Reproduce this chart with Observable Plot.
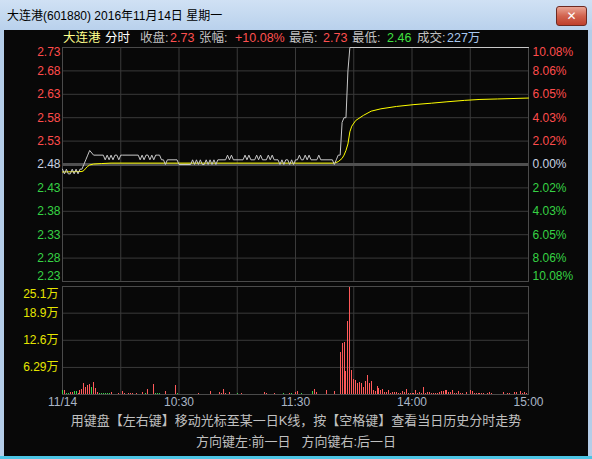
<!DOCTYPE html>
<html><head><meta charset="utf-8">
<script src="https://cdn.jsdelivr.net/npm/d3@7"></script>
<script src="https://cdn.jsdelivr.net/npm/@observablehq/plot@0.6"></script>
<style>
html,body{margin:0;padding:0;background:#fff;}
#win{position:relative;width:592px;height:459px;overflow:hidden;background:#b4cde8;font-family:"Liberation Sans","Noto Sans CJK SC",sans-serif;}
#titlebar{position:absolute;left:0;top:0;width:592px;height:30px;background:linear-gradient(#d0e1f4,#b9d1ec);}
#title{position:absolute;left:7px;top:9px;font-size:12px;color:#000;line-height:14px;white-space:nowrap;}
#close{position:absolute;left:556px;top:6px;width:31px;height:20px;border:1px solid #6e2a22;border-radius:3px;background:linear-gradient(#eaa595,#d2644f 50%,#bf3f2c);box-sizing:border-box;color:#fff;font-family:"DejaVu Sans",sans-serif;font-size:12px;font-weight:bold;text-align:center;line-height:18px;}
#body{position:absolute;left:4px;top:30px;width:584px;height:426px;background:#080808;}
#bottomline{position:absolute;left:0;top:456px;width:592px;height:3px;background:#4cc4e4;}
.hdr{position:absolute;top:31px;font-size:12.5px;line-height:15px;white-space:nowrap;}
.note{position:absolute;left:0;width:592px;text-align:center;font-size:13px;line-height:15px;color:#c0c0c0;white-space:pre;}
.chart{position:absolute;left:0;}
</style>
</head>
<body>
<div id="win">
  <div id="titlebar"></div>
  <div id="title">大连港(601880) 2016年11月14日 星期一</div>
  <div id="close">✕</div>
  <div id="body"></div>
  <div id="bottomline"></div>
  <span class="hdr" style="left:63px;color:#ffff8c">大连港</span>
  <span class="hdr" style="left:105px;color:#ffffff">分时</span>
  <span class="hdr" style="left:140px;color:#c0c0c0">收盘:</span>
  <span class="hdr" style="left:170px;color:#ff5050">2.73</span>
  <span class="hdr" style="left:199px;color:#c0c0c0">张幅:</span>
  <span class="hdr" style="left:235px;color:#ff5050">+10.08%</span>
  <span class="hdr" style="left:289px;color:#c0c0c0">最高:</span>
  <span class="hdr" style="left:323px;color:#ff5050">2.73</span>
  <span class="hdr" style="left:352px;color:#c0c0c0">最低:</span>
  <span class="hdr" style="left:387px;color:#40e040">2.46</span>
  <span class="hdr" style="left:417px;color:#c0c0c0">成交:</span>
  <span class="hdr" style="left:447px;color:#a8c8f0">227万</span>
  <div class="note" style="top:413px">用键盘【左右键】移动光标至某一日K线，按【空格键】查看当日历史分时走势</div>
  <div class="note" style="top:434px">方向键左:前一日   方向键右:后一日</div>
</div>
<script>
// ---- data ----
const prevClose = 2.48;
const upTicks = [2.73, 2.68, 2.63, 2.58, 2.53];
const downTicks = [2.43, 2.38, 2.33, 2.28, 2.23];
const upPct = ["10.08%", "8.06%", "6.05%", "4.03%", "2.02%"];
const downPct = ["2.02%", "4.03%", "6.05%", "8.06%", "10.08%"];
const gridMinutes = [30, 60, 90, 120, 150, 180, 210];
const timeTicks = [0, 60, 120, 180, 240];
const timeLabels = ["11/14", "10:30", "11:30", "14:00", "15:00"];
const volTicks = [25.1, 18.9, 12.6, 6.29];
const volLabels = ["25.1万", "18.9万", "12.6万", "6.29万"];

// price line (minute, price)
const priceMin = [0,1,2,3,4,5,6,7,8,9,10,11,12,13,14,16,21,22,23,24,25,26,27,28,29,30,31,39,40,41,42,43,44,45,46,47,48,49,50,51,52,53,54,59,60,66,67,68,69,70,71,72,73,74,75,76,77,78,79,80,84,85,86,87,88,93,94,95,96,97,99,100,101,102,103,105,106,107,108,109,111,112,113,114,115,116,117,118,119,120,121,122,123,124,125,126,127,128,131,132,133,139,140,141,142,143,144,145,146,147,148,240];
const priceVal = [2.47,2.46,2.47,2.46,2.46,2.47,2.46,2.47,2.46,2.47,2.47,2.48,2.49,2.50,2.51,2.50,2.50,2.49,2.50,2.49,2.50,2.49,2.50,2.50,2.49,2.50,2.50,2.50,2.49,2.50,2.49,2.50,2.50,2.49,2.50,2.49,2.50,2.50,2.50,2.49,2.49,2.48,2.49,2.49,2.48,2.48,2.49,2.48,2.49,2.48,2.49,2.48,2.48,2.49,2.48,2.49,2.48,2.49,2.48,2.49,2.49,2.50,2.49,2.50,2.49,2.49,2.50,2.49,2.50,2.49,2.49,2.50,2.49,2.50,2.49,2.49,2.50,2.49,2.50,2.49,2.49,2.48,2.49,2.48,2.49,2.49,2.48,2.49,2.48,2.49,2.49,2.50,2.49,2.49,2.50,2.49,2.50,2.49,2.49,2.50,2.49,2.49,2.48,2.49,2.50,2.50,2.57,2.58,2.58,2.68,2.73,2.73];

// average price line (minute, price)
const avgMin = [0,10,11,12,13,14,16,20,25,140,142,144,145,146,147,148,149,151,155,159,164,172,181,190,198,207,215,224,240];
const avgVal = [2.464,2.465,2.467,2.472,2.476,2.479,2.481,2.482,2.483,2.483,2.486,2.493,2.500,2.510,2.524,2.550,2.562,2.574,2.585,2.594,2.599,2.604,2.608,2.611,2.614,2.617,2.619,2.620,2.622];

// volume (万), rising minutes and falling minutes
const upVolMin = [1,4,5,8,9,10,11,12,13,14,16,17,18,25,29,31,32,34,35,36,38,41,44,47,53,58,70,76,81,82,83,84,86,92,104,105,109,117,120,121,130,131,136,140,143,144,145,146,147,148,149,150,151,152,153,154,155,156,157,158,159,160,161,162,163,164,165,166,167,168,169,170,171,172,173,174,175,176,177,178,179,180,181,182,183,184,185,186,187,188,189,190,191,192,193,194,195,196,197,198,199,200,201,202,203,204,205,206,208,210,211,212,213,214,215,216,217,219,220,221,227,229,230,233,234,236,237,238,239];
const upVol = [0.93,0.47,0.47,0.23,0.93,1.16,2.56,1.63,2.09,2.33,2.79,1.40,0.47,0.47,0.23,0.70,0.23,0.23,0.23,0.23,0.23,0.47,1.16,2.33,0.70,2.09,0.23,0.70,0.47,0.23,1.16,0.23,0.47,0.23,0.47,0.23,0.23,0.23,0.47,0.70,1.16,0.47,0.93,0.70,9.77,11.86,12.09,5.35,16.98,24.9,5.58,3.49,3.26,2.56,2.79,2.56,1.63,3.02,4.42,2.56,3.02,0.93,0.70,1.86,1.40,0.93,1.16,0.47,0.47,0.93,0.23,0.47,0.47,0.47,0.23,0.23,0.70,0.47,1.16,0.23,0.23,0.23,0.23,0.93,0.23,0.47,0.23,1.63,0.23,0.47,0.47,0.23,0.23,0.23,0.23,0.47,0.70,0.70,0.93,0.93,0.47,0.47,0.93,0.23,0.23,0.70,0.23,0.23,0.47,0.93,0.70,0.23,0.23,0.23,0.23,0.23,0.23,0.23,0.47,0.23,0.47,0.23,0.23,0.47,0.47,0.70,0.23,0.47,0.23];
const downVolMin = [0,2,3,6,7,15,19,20,21,22,23,24,43,48,49,50,59,90,114,118,123,129];
const downVol = [0.93,0.23,0.23,0.70,0.70,1.63,0.23,0.23,0.23,0.23,0.23,0.23,0.23,0.23,0.23,0.23,0.23,0.23,0.23,0.23,0.23,0.70];

// ---- colours ----
const RED = "#ff4c4c", GREEN = "#36d244", NEUTRAL = "#c8d2e2", GRID = "#3a3a3a";
const FONT = "Liberation Sans, Noto Sans CJK SC, sans-serif";
const win = document.getElementById("win");

const xScale = {domain: [0, 240], axis: null};
const idx = (arr) => arr.map((_, i) => i);

const pricePlot = Plot.plot({
  width: 592, height: 290,
  marginTop: 47, marginBottom: 9, marginLeft: 62, marginRight: 64,
  x: xScale,
  y: {domain: [2.23, 2.73], axis: null},
  style: {background: "transparent", overflow: "visible", fontFamily: FONT},
  marks: [
    Plot.ruleY([...upTicks.slice(1), ...downTicks.slice(0, 4)], {stroke: GRID}),
    Plot.ruleX(gridMinutes, {stroke: GRID}),
    Plot.ruleY([prevClose], {stroke: "#505050", strokeWidth: 3}),
    Plot.frame({stroke: "#4a4a4a"}),
    Plot.line(idx(avgMin), {x: i => avgMin[i], y: i => avgVal[i], stroke: "#ffff00", strokeWidth: 1}),
    Plot.line(idx(priceMin), {x: i => priceMin[i], y: i => priceVal[i], stroke: "#c8c8c8", strokeWidth: 1}),
    // left labels
    Plot.text([upTicks[0]], {y: d => d, text: d => d.toFixed(2), frameAnchor: "left", dx: -2, dy: 5, textAnchor: "end", fill: RED, fontSize: 12}),
    Plot.text(upTicks.slice(1), {y: d => d, text: d => d.toFixed(2), frameAnchor: "left", dx: -2, textAnchor: "end", fill: RED, fontSize: 12}),
    Plot.text([prevClose], {y: d => d, text: d => d.toFixed(2), frameAnchor: "left", dx: -2, textAnchor: "end", fill: NEUTRAL, fontSize: 12}),
    Plot.text(downTicks.slice(0, 4), {y: d => d, text: d => d.toFixed(2), frameAnchor: "left", dx: -2, textAnchor: "end", fill: GREEN, fontSize: 12}),
    Plot.text([downTicks[4]], {y: d => d, text: d => d.toFixed(2), frameAnchor: "left", dx: -2, dy: -5, textAnchor: "end", fill: GREEN, fontSize: 12}),
    // right labels
    Plot.text([0], {y: i => upTicks[i], text: i => upPct[i], frameAnchor: "right", dx: 4, dy: 5, textAnchor: "start", fill: RED, fontSize: 12}),
    Plot.text([1, 2, 3, 4], {y: i => upTicks[i], text: i => upPct[i], frameAnchor: "right", dx: 4, textAnchor: "start", fill: RED, fontSize: 12}),
    Plot.text([prevClose], {y: d => d, text: () => "0.00%", frameAnchor: "right", dx: 4, textAnchor: "start", fill: NEUTRAL, fontSize: 12}),
    Plot.text([0, 1, 2, 3], {y: i => downTicks[i], text: i => downPct[i], frameAnchor: "right", dx: 4, textAnchor: "start", fill: GREEN, fontSize: 12}),
    Plot.text([4], {y: i => downTicks[i], text: i => downPct[i], frameAnchor: "right", dx: 4, dy: -5, textAnchor: "start", fill: GREEN, fontSize: 12})
  ]
});
pricePlot.classList.add("chart");
pricePlot.style.top = "0px";
win.appendChild(pricePlot);

const volPlot = Plot.plot({
  width: 592, height: 130,
  marginTop: 6, marginBottom: 16, marginLeft: 62, marginRight: 64,
  x: xScale,
  y: {domain: [0, 25.1], axis: null},
  style: {background: "transparent", overflow: "visible", fontFamily: FONT},
  marks: [
    Plot.ruleY(volTicks.slice(1), {stroke: GRID}),
    Plot.ruleX(gridMinutes, {stroke: GRID}),
    Plot.frame({stroke: "#4a4a4a"}),
    Plot.ruleX(idx(upVolMin), {x: i => upVolMin[i], y1: 0, y2: i => upVol[i], stroke: "#ff5a5a", strokeWidth: 1, shapeRendering: "crispEdges"}),
    Plot.ruleX(idx(downVolMin), {x: i => downVolMin[i], y1: 0, y2: i => downVol[i], stroke: "#3cd24c", strokeWidth: 1, shapeRendering: "crispEdges"}),
    Plot.text([0], {y: i => volTicks[i], text: i => volLabels[i], frameAnchor: "left", dx: -4, dy: 8, textAnchor: "end", fill: "#e6e600", fontSize: 12}),
    Plot.text([1, 2, 3], {y: i => volTicks[i], text: i => volLabels[i], frameAnchor: "left", dx: -4, textAnchor: "end", fill: "#e6e600", fontSize: 12}),
    Plot.text(idx(timeTicks), {x: i => timeTicks[i], text: i => timeLabels[i], frameAnchor: "bottom", dy: 11, fill: "#aab6c6", fontSize: 12})
  ]
});
volPlot.classList.add("chart");
volPlot.style.top = "280px";
win.appendChild(volPlot);
</script>
</body></html>
